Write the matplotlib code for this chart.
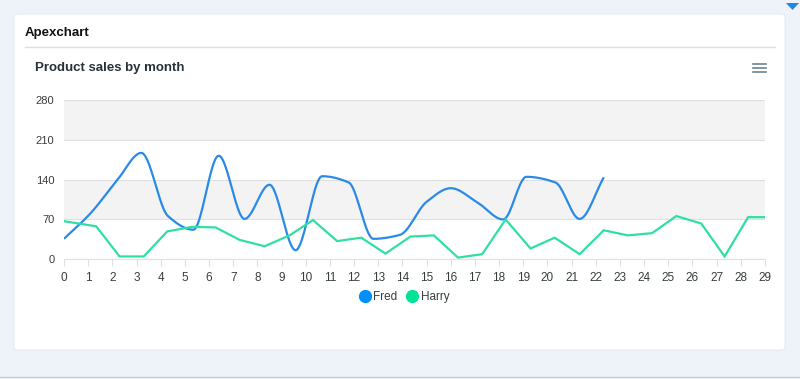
import numpy as np
import matplotlib
matplotlib.use("Agg")
import matplotlib.pyplot as plt
from matplotlib.patches import FancyBboxPatch, Polygon
from matplotlib.lines import Line2D

plt.rcParams['font.family'] = ['Liberation Sans', 'DejaVu Sans']

title = "Apexchart"
chart_title = "Product sales by month"
series_names = ["Fred", "Harry"]
colors = ["#2a8ae8", "#2fe0a0"]
legend_colors = ["#008FFB", "#00E396"]

fred_x = [0, 1.1, 2.2, 3.2, 4.3, 5.35, 6.4, 7.47, 8.5, 9.58, 10.68, 11.78, 12.8,
          13.9, 15.0, 16.0, 17.1, 18.17, 19.13, 20.33, 21.33, 22.33]
fred_y = [36, 81, 139, 187, 76, 52, 182, 71, 131, 16, 146, 135, 36,
          43, 101, 125, 100, 70, 145, 135, 71, 144]

harry_x = [0, 1.33, 2.3, 3.3, 4.27, 5.3, 6.27, 7.27, 8.3, 9.33, 10.3, 11.3, 12.3,
           13.3, 14.33, 15.3, 16.3, 17.3, 18.27, 19.3, 20.3, 21.33, 22.33, 23.33,
           24.33, 25.33, 26.36, 27.33, 28.3, 29]
harry_y = [67, 58, 5, 5, 49, 57, 56, 34, 23, 42, 69, 32, 38,
           10, 40, 42, 3, 9, 70, 19, 38, 9, 51, 42,
           46, 76, 63, 5, 74, 74]

x_ticks = list(range(0, 30))
y_ticks = [0, 70, 140, 210, 280]


def pchip(x, y, xs):
    x = np.asarray(x, float); y = np.asarray(y, float)
    n = len(x)
    h = np.diff(x); d = np.diff(y) / h
    m = np.zeros(n)
    for k in range(1, n - 1):
        if d[k - 1] * d[k] <= 0:
            m[k] = 0
        else:
            w1 = 2 * h[k] + h[k - 1]
            w2 = h[k] + 2 * h[k - 1]
            m[k] = (w1 + w2) / (w1 / d[k - 1] + w2 / d[k])
    m[0] = d[0]; m[-1] = d[-1]
    out = np.empty_like(xs)
    idx = np.clip(np.searchsorted(x, xs) - 1, 0, n - 2)
    for i, (xv, k) in enumerate(zip(xs, idx)):
        t = (xv - x[k]) / h[k]
        h00 = 2 * t**3 - 3 * t**2 + 1
        h10 = t**3 - 2 * t**2 + t
        h01 = -2 * t**3 + 3 * t**2
        h11 = t**3 - t**2
        out[i] = h00 * y[k] + h10 * h[k] * m[k] + h01 * y[k + 1] + h11 * h[k] * m[k + 1]
    return out


W, H = 800, 379
fig = plt.figure(figsize=(W / 100, H / 100), dpi=100)
fig.patch.set_facecolor("#eef2f9")

def fx(px): return px / W
def fy(py): return 1 - py / H

# card
card = FancyBboxPatch((fx(14), fy(350)), fx(785) - fx(14), fy(14) - fy(350),
                      boxstyle="round,pad=0,rounding_size=0.006",
                      transform=fig.transFigure, facecolor="white",
                      edgecolor="#e3e6ec", linewidth=0.6, zorder=-10)
fig.patches.append(card)

fig.text(fx(25), fy(33), title, fontsize=9.5, fontweight="bold", color="#111111",
         va="center", ha="left")
fig.add_artist(Line2D([fx(25), fx(775)], [fy(47), fy(47)], color="#dcdde1",
                      linewidth=1, transform=fig.transFigure))
fig.text(fx(35), fy(68), chart_title, fontsize=9.5, fontweight="bold",
         color="#263238", va="center", ha="left")
for yy in (64, 68, 72):
    fig.add_artist(Line2D([fx(753), fx(766)], [fy(yy), fy(yy)], color="#6e8192",
                          linewidth=1.2, transform=fig.transFigure))
fig.patches.append(Polygon([[fx(786), fy(3)], [fx(799), fy(3)], [fx(792.5), fy(10)]],
                           closed=True, transform=fig.transFigure,
                           facecolor="#1e88e5", edgecolor="none"))
fig.add_artist(Line2D([0, 1], [fy(377), fy(377)], color="#c9ccd2",
                      linewidth=1, transform=fig.transFigure))

ax = fig.add_axes([fx(64), fy(259.3), fx(765) - fx(64), fy(100) - fy(259.3)])
ax.set_zorder(5)
ax.set_facecolor("none")
ax.set_xlim(0, 29)
ax.set_ylim(0, 280)

# alternating bands
ax.axhspan(210, 280, color="#f3f3f3", zorder=0, lw=0)
ax.axhspan(70, 140, color="#f3f3f3", zorder=0, lw=0)
for yv in y_ticks:
    ax.axhline(yv, color="#e0e0e0", linewidth=0.8, zorder=1)

xs = np.linspace(fred_x[0], fred_x[-1], 800)
ax.plot(xs, pchip(fred_x, fred_y, xs), color=colors[0], linewidth=1.6, zorder=3,
        solid_capstyle="butt")
ax.plot(harry_x, harry_y, color=colors[1], linewidth=1.6, zorder=3,
        solid_joinstyle="miter")

ax.set_xticks(x_ticks)
ax.set_xticklabels([str(v) for v in x_ticks])
ax.set_yticks(y_ticks)
ax.set_yticklabels([str(v) for v in y_ticks])
ax.tick_params(axis="x", length=5, color="#e0e0e0", labelsize=8.5, labelcolor="#373d3f",
               pad=4, width=0.8)
ax.tick_params(axis="y", length=0, labelsize=8, labelcolor="#373d3f", pad=7)
for s in ["top", "right", "left"]:
    ax.spines[s].set_visible(False)
ax.spines["bottom"].set_color("#e0e0e0")
ax.spines["bottom"].set_linewidth(0.8)

handles = [Line2D([], [], marker="o", linestyle="none", markersize=8.5,
                  markerfacecolor=c, markeredgecolor=c) for c in legend_colors]
fig.legend(handles, series_names, loc="center", bbox_to_anchor=(fx(404), fy(297)),
           ncol=2, frameon=False, fontsize=8.5, handletextpad=0.2, columnspacing=0.8,
           labelcolor="#373d3f", handlelength=1.0)

fig.savefig("out.png", dpi=100, facecolor=fig.get_facecolor())
